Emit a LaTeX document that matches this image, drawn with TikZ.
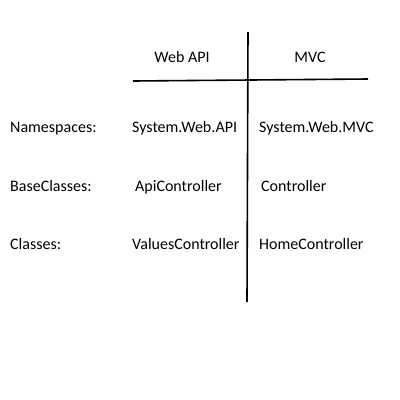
\documentclass[tikz,border=0pt]{standalone}
\usepackage{fontspec}
\setmainfont{Carlito}
\begin{document}
\begin{tikzpicture}[x=1pt,y=-1pt]
		\tikzstyle{every node}+=[inner sep=0pt, text height=11pt, text depth=3pt, font=\fontsize{16}{18}\selectfont]
		\tikzstyle{cell}=[anchor=west]
		\useasboundingbox (0,0) rectangle (400,400);
		% table lines
		\coordinate (vtop) at (248,32);
		\coordinate (vbot) at (247,302);
		\coordinate (hleft) at (133,81);
		\coordinate (hright) at (368,79);
		\draw [black, line width=1.6pt] (vtop) -- (vbot);
		\draw [black, line width=1.6pt] (hleft) -- (hright);
		% headers
		\node (webapi) at (182,58) {Web API};
		\node (mvc) at (310,58) {MVC};
		% rows
		\node [cell] (ns) at (10,128) {Namespaces:};
		\node [cell] (bc) at (10,187) {BaseClasses:};
		\node [cell] (cl) at (10,245) {Classes:};
		\node [cell] (nsapi) at (132,128) {System.Web.API};
		\node [cell] (bcapi) at (135,187) {ApiController};
		\node [cell] (clapi) at (132,245) {ValuesController};
		\node [cell] (nsmvc) at (259,128) {System.Web.MVC};
		\node [cell] (bcmvc) at (261,187) {Controller};
		\node [cell] (clmvc) at (259,245) {HomeController};
\end{tikzpicture}
\end{document}
